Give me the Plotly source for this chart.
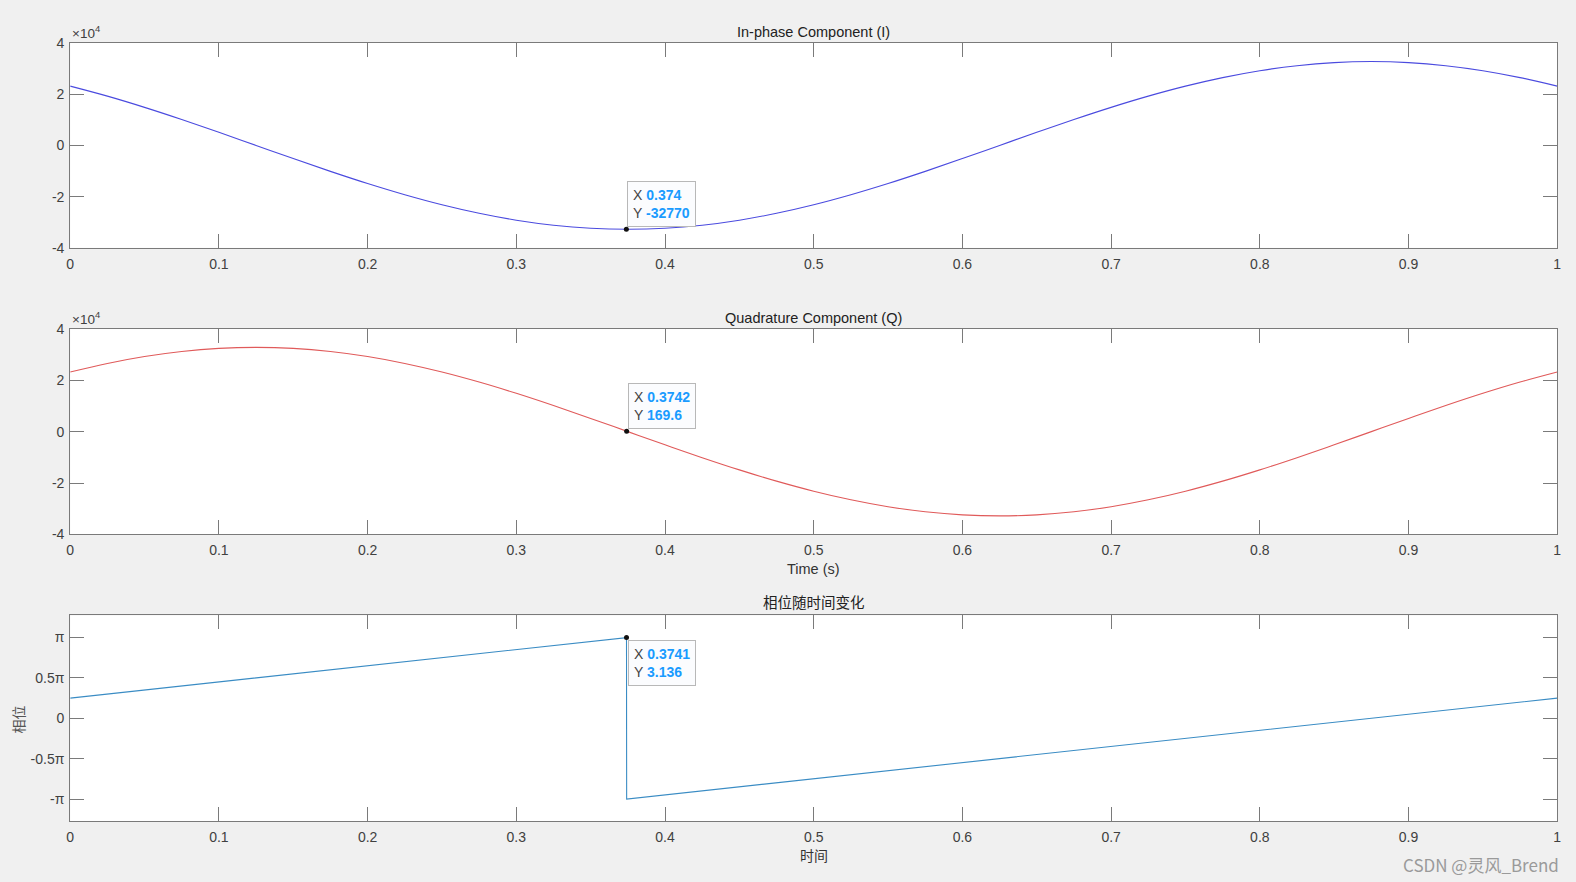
import plotly.graph_objects as go
from plotly.subplots import make_subplots

# values (t in s)
t = [0.0, 0.025, 0.05, 0.075, 0.1, 0.125, 0.15, 0.175, 0.2, 0.225,
     0.25, 0.275, 0.3, 0.325, 0.35, 0.375, 0.4, 0.425, 0.45, 0.475,
     0.5, 0.525, 0.55, 0.575, 0.6, 0.625, 0.65, 0.675, 0.7, 0.725,
     0.75, 0.775, 0.8, 0.825, 0.85, 0.875, 0.9, 0.925, 0.95, 0.975, 1.0]
i_vals = [23170, 19260, 14880, 10130, 5130, 0, -5130, -10130, -14880, -19260,
          -23170, -26510, -29200, -31160, -32370, -32770, -32370, -31160, -29200, -26510,
          -23170, -19260, -14880, -10130, -5130, 0, 5130, 10130, 14880, 19260,
          23170, 26510, 29200, 31160, 32370, 32770, 32370, 31160, 29200, 26510, 23170]
q_vals = [23170, 26510, 29200, 31160, 32370, 32770, 32370, 31160, 29200, 26510,
          23170, 19260, 14880, 10130, 5130, 0, -5130, -10130, -14880, -19260,
          -23170, -26510, -29200, -31160, -32370, -32770, -32370, -31160, -29200, -26510,
          -23170, -19260, -14880, -10130, -5130, 0, 5130, 10130, 14880, 19260, 23170]
phase_t = [0.0, 0.3741, 0.3742, 1.0]
phase_vals = [0.785, 3.136, -3.141, 0.785]

tips_i = (0.374, -32770)
tips_q = (0.3742, 169.6)
tips_p = (0.3741, 3.136)

x_ticks = [0, 0.1, 0.2, 0.3, 0.4, 0.5, 0.6, 0.7, 0.8, 0.9, 1]
x_labels = ["0", "0.1", "0.2", "0.3", "0.4", "0.5", "0.6", "0.7", "0.8", "0.9", "1"]
iq_ticks = [-40000, -20000, 0, 20000, 40000]
iq_labels = ["-4", "-2", "0", "2", "4"]
ph_ticks = [-3.14159, -1.5708, 0, 1.5708, 3.14159]
ph_labels = ["-π", "-0.5π", "0", "0.5π", "π"]

FONT = "Liberation Sans, Arial, sans-serif"
CJK = "Noto Sans CJK SC, sans-serif"
AX = "#7a7a7a"
TXT = "#404040"
TIP = "#1a9bff"

W, H = 1576, 882


# the photographed page comes out slightly shrunk and shifted; place things so they land
# on the reference's pixel positions
def px(v):
    return (v - 3.8) / 0.9949 / W


def py(v):
    return 1 - (v - 6.9) / 0.983 / H


x0, x1 = px(70), px(1557)
doms = [(py(247), py(42)), (py(534), py(328)), (py(821), py(615))]

fig = make_subplots(rows=3, cols=1)
fig.add_trace(go.Scatter(x=t, y=i_vals, mode="lines", line=dict(color="#4b4bdf", width=1.1, shape="spline")), row=1, col=1)
fig.add_trace(go.Scatter(x=t, y=q_vals, mode="lines", line=dict(color="#e05a5a", width=1.1, shape="spline")), row=2, col=1)
fig.add_trace(go.Scatter(x=phase_t, y=phase_vals, mode="lines", line=dict(color="#3a8cc4", width=1.1)), row=3, col=1)

for r, tip in enumerate([tips_i, tips_q, tips_p], start=1):
    fig.add_trace(go.Scatter(x=[tip[0]], y=[tip[1]], mode="markers",
                             marker=dict(color="#111111", size=5)), row=r, col=1)

for r in range(1, 4):
    fig.update_xaxes(domain=[x0, x1], range=[0, 1], tickvals=x_ticks, ticktext=x_labels,
                     ticks="inside", ticklen=14, tickcolor=AX, showline=True, linecolor=AX,
                     mirror="ticks", showgrid=False, zeroline=False, ticklabelstandoff=3,
                     tickfont=dict(family=FONT, size=14, color=TXT), row=r, col=1)
    fig.update_yaxes(domain=list(doms[r - 1]), ticks="inside", ticklen=14, tickcolor=AX,
                     showline=True, linecolor=AX, mirror="ticks", showgrid=False,
                     zeroline=False, ticklabelstandoff=2,
                     tickfont=dict(family=FONT, size=14, color=TXT), row=r, col=1)

fig.update_yaxes(range=[-40000, 40000], tickvals=iq_ticks, ticktext=iq_labels, row=1, col=1)
fig.update_yaxes(range=[-40000, 40000], tickvals=iq_ticks, ticktext=iq_labels, row=2, col=1)
fig.update_yaxes(range=[-4, 4], tickvals=ph_ticks, ticktext=ph_labels, row=3, col=1)

ann = []
xc = (x0 + x1) / 2
titles = [("In-phase Component (I)", FONT, 0), ("Quadrature Component (Q)", FONT, 1), ("相位随时间变化", CJK, 2)]
for text, fam, k in titles:
    ann.append(dict(text=text, x=xc, y=doms[k][1], xref="paper", yref="paper",
                    xanchor="center", yanchor="bottom", yshift=1, showarrow=False,
                    font=dict(family=fam, size=14.5, color="#222222")))
for k in (0, 1):
    ann.append(dict(text="×10<sup>4</sup>", x=x0, y=doms[k][1], xref="paper", yref="paper",
                    xanchor="left", yanchor="bottom", showarrow=False, yshift=0,
                    font=dict(family=FONT, size=13.5, color=TXT)))
ann.append(dict(text="Time (s)", x=xc, y=py(569), xref="paper", yref="paper",
                xanchor="center", yanchor="middle", showarrow=False,
                font=dict(family=FONT, size=14.5, color="#333333")))
ann.append(dict(text="时间", x=xc, y=py(855), xref="paper", yref="paper",
                xanchor="center", yanchor="middle", showarrow=False,
                font=dict(family=CJK, size=14, color="#333333")))
ann.append(dict(text="相位", x=px(18), y=py(719), xref="paper", yref="paper",
                xanchor="center", yanchor="middle", showarrow=False, textangle=-90,
                font=dict(family=CJK, size=14, color="#555555")))
ann.append(dict(text="CSDN @灵风_Brend", x=px(1561), y=py(864), xref="paper", yref="paper",
                xanchor="right", yanchor="middle", showarrow=False,
                font=dict(family=CJK, size=17, color="#9a9a9a")))


def tip_text(xv, yv):
    return (f"X <b><span style='color:{TIP}'>{xv}</span></b><br>"
            f"Y <b><span style='color:{TIP}'>{yv}</span></b>")


tip_specs = [("x", "y", tips_i, "0.374", "-32770", "bottom"),
             ("x2", "y2", tips_q, "0.3742", "169.6", "bottom"),
             ("x3", "y3", tips_p, "0.3741", "3.136", "top")]
for xr, yr, tip, xs, ys, ya in tip_specs:
    ann.append(dict(text=tip_text(xs, ys), x=tip[0], y=tip[1], xref=xr, yref=yr,
                    xanchor="left", yanchor=ya, align="left", showarrow=False,
                    xshift=1, yshift=2 if ya == "bottom" else -2,
                    bgcolor="#fbfcfe", bordercolor="#b8b8b8", borderwidth=1, borderpad=5,
                    font=dict(family=FONT, size=14, color="#444444")))

fig.update_layout(width=W, height=H, margin=dict(l=0, r=0, t=0, b=0),
                  paper_bgcolor="#f0f0f0", plot_bgcolor="#ffffff",
                  showlegend=False, annotations=ann)

page_fix = "document.body.style.margin='0';document.body.style.background='#f0f0f0';"
fig.write_html("out.html", post_script=page_fix, config={"displayModeBar": False})
